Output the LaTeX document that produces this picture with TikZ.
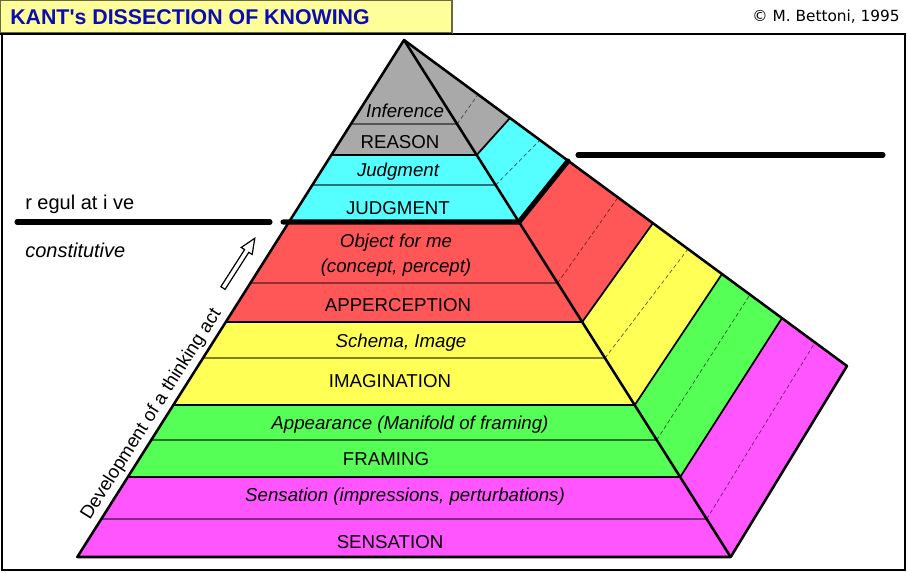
\documentclass[tikz,border=0pt]{standalone}
\usepackage{fontspec}
\setmainfont{Liberation Sans}
\newfontfamily\copyfont{DejaVu Sans}
\usepackage{tikz}

\definecolor{pgray}{HTML}{A9A9A9}
\definecolor{pcyan}{HTML}{55FFFF}
\definecolor{pred}{HTML}{FF5757}
\definecolor{pyellow}{HTML}{FFFF55}
\definecolor{pgreen}{HTML}{55FF55}
\definecolor{pmagenta}{HTML}{FF55FF}
\definecolor{titlebg}{HTML}{FFFF99}
\definecolor{titleblue}{HTML}{0C0CB4}

\begin{document}
\begin{tikzpicture}[x=0.75pt, y=-0.75pt,
  lbl/.style={font=\fontsize{14}{17}\selectfont, inner sep=0pt},
  ilbl/.style={font=\fontsize{14}{19}\selectfont\itshape, inner sep=0pt, align=center},
  sidetxt/.style={font=\fontsize{15}{18}\selectfont, inner sep=0pt, anchor=west},
  outl/.style={line width=1.9pt, line join=round},
  sep/.style={line width=1.3pt},
  fine/.style={line width=0.9pt},
  sidefine/.style={densely dashed, line width=0.5pt},
  bar/.style={line width=3.8pt, line cap=round, line join=round}]
\useasboundingbox (0,0) rectangle (907,572);
% ---- frame and title
\draw[line width=1.5pt] (2,34) rectangle (905,570);
\fill[titlebg, draw={black!45!yellow!60!black}, line width=0.8pt] (0,0) rectangle (452,33);
\draw[line width=1.5pt] (0,34) -- (452,34);
\node[font=\fontsize{16}{18}\selectfont\bfseries, color=titleblue, anchor=west, inner sep=0pt] (title) at (10,17) {KANT\textquotesingle s DISSECTION OF KNOWING};
\node[font=\copyfont\fontsize{11.5}{13}\selectfont, anchor=east, inner sep=0pt] (copyr) at (900,17) {\copyright{} M. Bettoni, 1995};
% ---- corners of the solid
\coordinate (apex) at (404,40);
\coordinate (L1) at (331.3,155); \coordinate (R1) at (476.7,155);
\coordinate (L2) at (289.0,222); \coordinate (R2) at (519.0,222);
\coordinate (L3) at (225.8,322); \coordinate (R3) at (582.2,322);
\coordinate (L4) at (173.3,405); \coordinate (R4) at (634.7,405);
\coordinate (L5) at (127.8,477); \coordinate (R5) at (680.2,477);
\coordinate (L6) at (77.3,557);  \coordinate (R6) at (730.7,557);
\coordinate (T1) at (510,118); \coordinate (T2) at (568,161); \coordinate (T3) at (653,223);
\coordinate (T4) at (722,274); \coordinate (T5) at (782,318); \coordinate (T6) at (847,366);
% thin lines inside the bands
\coordinate (ml1) at (350.9,124); \coordinate (mr1) at (457.1,124); \coordinate (mt1) at (478,94.5);
\coordinate (ml2) at (312.4,185); \coordinate (mr2) at (495.6,185); \coordinate (mt2) at (540,140);
\coordinate (ml3) at (250.4,283); \coordinate (mr3) at (557.6,283); \coordinate (mt3) at (618,197.5);
\coordinate (ml4) at (203.0,358); \coordinate (mr4) at (605.0,358); \coordinate (mt4) at (688,249);
\coordinate (ml5) at (151.2,440); \coordinate (mr5) at (656.8,440); \coordinate (mt5) at (750,294.6);
\coordinate (ml6) at (101.3,519); \coordinate (mr6) at (706.7,519); \coordinate (mt6) at (815,342.5);
% ---- front face
\fill[pgray] (apex) -- (R1) -- (L1) -- cycle;
\fill[pcyan] (L1) -- (R1) -- (R2) -- (L2) -- cycle;
\fill[pred] (L2) -- (R2) -- (R3) -- (L3) -- cycle;
\fill[pyellow] (L3) -- (R3) -- (R4) -- (L4) -- cycle;
\fill[pgreen] (L4) -- (R4) -- (R5) -- (L5) -- cycle;
\fill[pmagenta] (L5) -- (R5) -- (R6) -- (L6) -- cycle;
% ---- side face
\fill[pgray] (apex) -- (R1) -- (T1) -- cycle;
\fill[pcyan] (R1) -- (R2) -- (T2) -- (T1) -- cycle;
\fill[pred] (R2) -- (R3) -- (T3) -- (T2) -- cycle;
\fill[pyellow] (R3) -- (R4) -- (T4) -- (T3) -- cycle;
\fill[pgreen] (R4) -- (R5) -- (T5) -- (T4) -- cycle;
\fill[pmagenta] (R5) -- (R6) -- (T6) -- (T5) -- cycle;
\draw[fine, pgray!50!black] (ml1) -- (mr1);
\draw[fine, pcyan!45!black] (ml2) -- (mr2);
\draw[fine, pred!55!black] (ml3) -- (mr3);
\draw[fine, pyellow!50!black] (ml4) -- (mr4);
\draw[fine, pgreen!45!black] (ml5) -- (mr5);
\draw[fine, pmagenta!50!black] (ml6) -- (mr6);
\draw[sidefine, pgray!40!black] (mr1) -- (mt1);
\draw[sidefine, pcyan!35!black] (mr2) -- (mt2);
\draw[sidefine, pred!40!black] (mr3) -- (mt3);
\draw[sidefine, pyellow!35!black] (mr4) -- (mt4);
\draw[sidefine, pgreen!35!black] (mr5) -- (mt5);
\draw[sidefine, pmagenta!40!black] (mr6) -- (mt6);
\draw[sep] (L1) -- (R1) -- (T1);
\draw[sep] (L3) -- (R3) -- (T3);
\draw[sep] (L4) -- (R4) -- (T4);
\draw[sep] (L5) -- (R5) -- (T5);
\draw[outl] (apex) -- (L6) -- (R6) -- (T6) -- cycle;
\draw[outl] (apex) -- (R6);
% ---- regulative / constitutive bars
\coordinate (barA) at (17,222); \coordinate (barB) at (270,222); \coordinate (barC) at (283,222);
\coordinate (barD) at (578,155); \coordinate (barE) at (883,155);
\draw[bar] (barA) -- (barB);
\draw[bar] (barC) -- (R2) -- (T2);
\draw[bar] (barD) -- (barE);
\node[sidetxt] (regul) at (25,204) {r egul at i ve};
\node[sidetxt, font=\fontsize{15}{18}\selectfont\itshape] (constit) at (25,250) {constitutive};
% ---- development arrow
\node[lbl, rotate=57.7, anchor=south, inner sep=2.5pt] (devel) at (162,421) {Development of a thinking act};
\begin{scope}[shift={(223,288)}, rotate=57.4]
\draw[line width=0.9pt, fill=white] (0,-2.5) -- (44,-2.5) -- (44,-6.5) -- (59,0) -- (44,6.5) -- (44,2.5) -- (0,2.5) -- cycle;
\end{scope}
% ---- band labels
\node[ilbl] (inference) at (405,111) {Inference};
\node[lbl] (reason) at (400,142) {REASON};
\node[ilbl] (judg) at (398,172) {Judgment};
\node[lbl] (JUDG) at (398,208) {JUDGMENT};
\node[ilbl] (object) at (396,255) {Object for me\\(concept, percept)};
\node[lbl] (apperc) at (398,305) {APPERCEPTION};
\node[ilbl] (schema) at (401,343) {Schema, Image};
\node[lbl] (imag) at (390,381) {IMAGINATION};
\node[ilbl] (appear) at (410,425) {Appearance (Manifold of framing)};
\node[lbl] (framing) at (386,459) {FRAMING};
\node[ilbl] (sens) at (405,497) {Sensation (impressions, perturbations)};
\node[lbl] (SENS) at (390,542) {SENSATION};
\end{tikzpicture}
\end{document}
